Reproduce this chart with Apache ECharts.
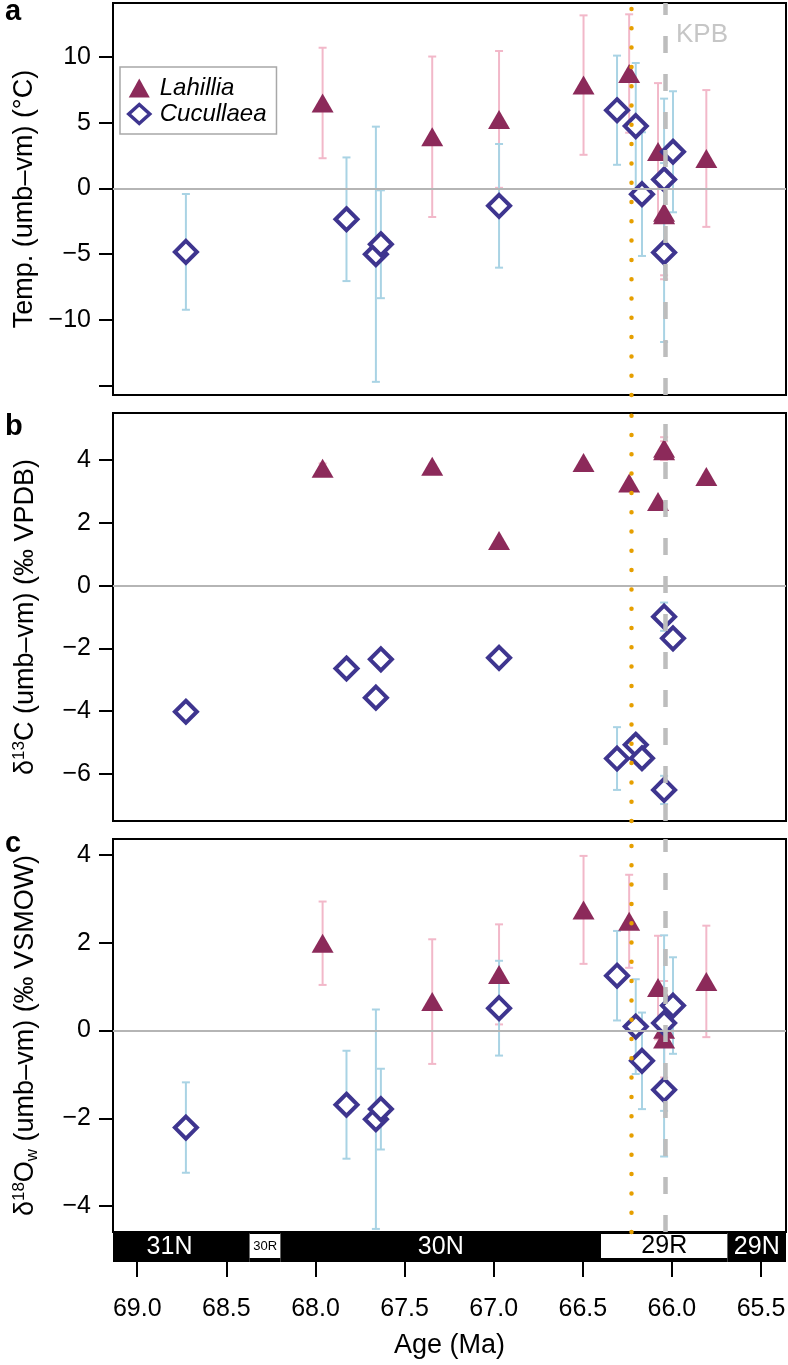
<!DOCTYPE html>
<html><head><meta charset="utf-8">
<script src="https://cdn.jsdelivr.net/npm/echarts@6/dist/echarts.min.js"></script>
<style>html,body{margin:0;padding:0;background:#fff}#c{width:788px;height:1365px}</style>
</head><body><div id="c"></div>
<script>
// ---------- data ----------
const lahAge = [67.96, 67.345, 66.97, 66.496, 66.24, 66.078, 66.044, 66.044, 65.807];
const lahTemp = [6.5, 3.93, 5.25, 7.86, 8.74, 2.81, -1.8, -2.0, 2.28];
const lahTempErr = [4.2, 6.1, 5.2, 5.3, 4.5, 5.2, 4.8, 4.9, 5.2];
const lahD13 = [3.74, 3.80, 1.44, 3.92, 3.27, 2.68, 4.38, 4.30, 3.48];
const lahD13Err = [0.15, 0.05, 0.05, 0.05, 0.05, 0.05, 0.35, 0.3, 0.05];
const lahD18 = [1.99, 0.66, 1.28, 2.75, 2.49, 0.98, 0.03, -0.19, 1.12];
const lahD18Err = [0.95, 1.42, 1.14, 1.23, 1.06, 1.18, 1.1, 1.1, 1.27];

const cucAge = [68.727, 67.826, 67.661, 67.633, 66.97, 66.308, 66.203, 66.168, 66.044, 66.044, 65.994];
const cucTemp = [-4.82, -2.34, -5.0, -4.24, -1.32, 5.95, 4.74, -0.43, 0.68, -4.87, 2.79];
const cucTempErr = [4.4, 4.7, 9.7, 4.1, 4.7, 4.15, 4.8, 4.7, 6.15, 6.8, 4.6];
const cucD13 = [-4.02, -2.64, -3.57, -2.35, -2.30, -5.51, -5.07, -5.5, -0.99, -6.51, -1.68];
const cucD13Err = [0.1, 0.15, 0.2, 0.2, 0.15, 1.0, 0.3, 0.3, 0.45, 0.45, 0.1];
const cucD18 = [-2.21, -1.69, -2.02, -1.79, 0.51, 1.25, 0.09, -0.69, 0.17, -1.35, 0.57];
const cucD18Err = [1.03, 1.23, 2.5, 0.92, 1.08, 1.02, 1.08, 1.1, 2.0, 1.52, 1.1];

const ageTicks = [69.0, 68.5, 68.0, 67.5, 67.0, 66.5, 66.0, 65.5];
const tempTicks = [-15, -10, -5, 0, 5, 10];
const tempLabels = [-10, -5, 0, 5, 10];
const d13Ticks = [-6, -4, -2, 0, 2, 4];
const d18Ticks = [-4, -2, 0, 2, 4];

const deccanAge = 66.23;
const kpbAge = 66.044;

const chronNames = ['31N', '30R', '30N', '29R', '29N'];
const chronOld = [69.269, 68.369, 68.196, 66.398, 65.688];
const chronYoung = [68.369, 68.196, 66.398, 65.688, 64.958];
const chronReversed = [0, 1, 0, 1, 0];

// ---------- styling ----------
const FF = '"Liberation Sans", Arial, Helvetica, sans-serif';
const LAH = '#8c2a5a', LAH_ERR = '#f2b8c9';
const CUC = '#3e358f', CUC_ERR = '#a9d3e4';
const xMin = 65.36, xMax = 69.136;

const zip3 = (a, b, c) => a.map((v, i) => [v, b[i], c[i]]);
const zip2 = (a, b) => a.map((v, i) => [v, b[i]]);
const minus = v => (v < 0 ? '\u2212' : '') + Math.abs(v);

function errRender(color) {
  return function (params, api) {
    const x = api.value(0), y = api.value(1), e = api.value(2);
    const t = api.coord([x, y + e]), b = api.coord([x, y - e]);
    const w = 4, st = { stroke: color, lineWidth: 2 };
    return { type: 'group', children: [
      { type: 'line', shape: { x1: t[0], y1: t[1], x2: b[0], y2: b[1] }, style: st },
      { type: 'line', shape: { x1: t[0] - w, y1: t[1], x2: t[0] + w, y2: t[1] }, style: st },
      { type: 'line', shape: { x1: b[0] - w, y1: b[1], x2: b[0] + w, y2: b[1] }, style: st }
    ] };
  };
}

function magRender(params, api) {
  const i = params.dataIndex, cs = params.coordSys;
  const x1 = api.coord([api.value(0), 0])[0], x2 = api.coord([api.value(1), 0])[0];
  const left = Math.min(x1, x2), right = Math.max(x1, x2);
  const L = Math.max(left, cs.x), R = Math.min(right, cs.x + cs.width);
  if (R <= L) return null;
  const top = cs.y, h = cs.height, rev = api.value(2) === 1;
  const ch = [{ type: 'rect', shape: { x: L, y: top, width: R - L, height: h }, style: { fill: '#000' } }];
  if (rev) ch.push({ type: 'rect', shape: { x: L, y: top + 2, width: R - L, height: h - 6 }, style: { fill: '#fff' } });
  let mid = (left + right) / 2;
  if (mid < L || mid > R) mid = (L + R) / 2;
  const small = (R - L) < 40;
  ch.push({ type: 'text', x: mid, y: top + h / 2 - (rev ? 1 : 0), style: {
    text: chronNames[i], fill: rev ? '#000' : '#fff', fontSize: small ? 13 : 25,
    fontFamily: FF, align: 'center', verticalAlign: 'middle' } });
  return { type: 'group', children: ch };
}

const grids = [
  { left: 113, right: 2, top: 3, height: 392 },
  { left: 113, right: 2, top: 413, height: 408 },
  { left: 113, right: 2, top: 839, height: 393 },
  { left: 113, right: 2, top: 1232, height: 30 }
].map(g => Object.assign({ show: true, borderColor: '#000', borderWidth: 2, backgroundColor: 'transparent', outerBoundsMode: 'none' }, g));
grids[3].show = false;

const xAxes = [0, 1, 2, 3].map(i => ({
  type: 'value', gridIndex: i, min: xMin, max: xMax, inverse: true, show: i === 3,
  splitLine: { show: false },
  axisLine: { show: false },
  axisTick: i === 3 ? { show: true, length: 15, lineStyle: { color: '#000', width: 2 }, customValues: ageTicks } : { show: false },
  axisLabel: i === 3 ? { show: true, customValues: ageTicks, margin: 35, fontSize: 25, color: '#000', fontFamily: FF, formatter: v => v.toFixed(1) } : { show: false },
  name: i === 3 ? 'Age (Ma)' : '', nameLocation: 'middle', nameGap: 70,
  nameTextStyle: { fontSize: 27, color: '#000', fontFamily: FF }
}));

function yAx(i, min, max, ticks, labels, name, rich) {
  return {
    type: 'value', gridIndex: i, min, max, position: 'left',
    splitLine: { show: false }, axisLine: { show: false },
    axisTick: { show: true, length: 14, lineStyle: { color: '#000', width: 2 }, customValues: ticks },
    axisLabel: { show: true, customValues: labels, margin: 22, fontSize: 25, color: '#000', fontFamily: FF, formatter: minus },
    name, nameLocation: 'middle', nameGap: 72,
    nameTextStyle: Object.assign({ fontSize: 27, color: '#000', fontFamily: FF }, rich ? { rich } : {})
  };
}
const richT = {
  n: { fontSize: 27, fontFamily: FF, color: '#000', lineHeight: 30 },
  s: { fontSize: 17, fontFamily: FF, color: '#000', verticalAlign: 'top', lineHeight: 30 },
  b: { fontSize: 17, fontFamily: FF, color: '#000', verticalAlign: 'bottom', lineHeight: 26 }
};
const yAxes = [
  yAx(0, -15.7, 14.1, tempTicks, tempLabels, 'Temp. (umb\u2013vm) (\u00b0C)'),
  yAx(1, -7.5, 5.5, d13Ticks, d13Ticks, '{n|\u03b4}{s|13}{n|C (umb\u2013vm) (\u2030 VPDB)}', richT),
  yAx(2, -4.59, 4.365, d18Ticks, d18Ticks, '{n|\u03b4}{s|18}{n|O}{b|w}{n| (umb\u2013vm) (\u2030 VSMOW)}', richT),
  { type: 'value', gridIndex: 3, min: 0, max: 1, show: false }
];

const series = [];
const panels = [
  [lahTemp, lahTempErr, cucTemp, cucTempErr],
  [lahD13, lahD13Err, cucD13, cucD13Err],
  [lahD18, lahD18Err, cucD18, cucD18Err]
];
panels.forEach((p, i) => {
  series.push({
    type: 'line', name: 'ref' + i, xAxisIndex: i, yAxisIndex: i, data: [], z: 1, silent: true,
    markLine: { silent: true, symbol: 'none', animation: false, label: { show: false },
      data: [
        { yAxis: 0, lineStyle: { color: '#b5b5b5', width: 2, type: 'solid' } },
        { xAxis: deccanAge, lineStyle: { color: '#e69f00', width: 4.5, type: [0, 19.3], cap: 'round' } },
        { xAxis: kpbAge, lineStyle: { color: '#bdbdbd', width: 4.5, type: [17, 21] } }
      ] }
  });
  series.push({ type: 'custom', name: 'lahErr' + i, xAxisIndex: i, yAxisIndex: i, z: 2, silent: true,
    renderItem: errRender(LAH_ERR), encode: { x: 0, y: 1 }, data: zip3(lahAge, p[0], p[1]) });
  series.push({ type: 'custom', name: 'cucErr' + i, xAxisIndex: i, yAxisIndex: i, z: 2, silent: true,
    renderItem: errRender(CUC_ERR), encode: { x: 0, y: 1 }, data: zip3(cucAge, p[2], p[3]) });
  series.push({ type: 'scatter', name: 'Lahillia', xAxisIndex: i, yAxisIndex: i, z: 3,
    symbol: 'triangle', symbolSize: [22, 19], itemStyle: { color: LAH, opacity: 1 }, data: zip2(lahAge, p[0]) });
  series.push({ type: 'scatter', name: 'Cucullaea', xAxisIndex: i, yAxisIndex: i, z: 4,
    symbol: 'diamond', symbolSize: 22, itemStyle: { color: '#fff', borderColor: CUC, borderWidth: 4, opacity: 1 }, data: zip2(cucAge, p[2]) });
});
series.push({ type: 'custom', name: 'chrons', xAxisIndex: 3, yAxisIndex: 3, silent: true,
  renderItem: magRender, encode: { x: [0, 1] },
  data: chronOld.map((v, i) => [v, chronYoung[i], chronReversed[i]]) });

const option = {
  animation: false,
  backgroundColor: '#fff',
  textStyle: { fontFamily: FF },
  title: [
    { text: 'a', left: 5, top: -3, padding: 0, textStyle: { fontSize: 29, fontWeight: 'bold', color: '#000', fontFamily: FF } },
    { text: 'b', left: 5, top: 412, padding: 0, textStyle: { fontSize: 29, fontWeight: 'bold', color: '#000', fontFamily: FF } },
    { text: 'c', left: 5, top: 829, padding: 0, textStyle: { fontSize: 29, fontWeight: 'bold', color: '#000', fontFamily: FF } }
  ],
  legend: {
    data: [
      { name: 'Lahillia' },
      { name: 'Cucullaea', itemStyle: { color: '#fff', borderColor: CUC, borderWidth: 3.5 } }
    ],
    left: 120, top: 67, orient: 'vertical',
    itemWidth: 21, itemHeight: 19, itemGap: 2, padding: [9, 10, 8, 7],
    borderColor: '#a8a8a8', borderWidth: 1.5, backgroundColor: '#fff',
    textStyle: { fontSize: 24, fontStyle: 'italic', color: '#000', fontFamily: FF, padding: [0, 0, 0, 5] },
    selectedMode: false
  },
  graphic: [
    { type: 'text', left: 676, top: 22, silent: true, style: { text: 'KPB', fill: '#c6c6c6', fontSize: 26, fontFamily: FF } }
  ],
  grid: grids, xAxis: xAxes, yAxis: yAxes, series
};
const chart = echarts.init(document.getElementById('c'), null, { renderer: 'canvas' });
chart.setOption(option);
</script>
</body></html>
